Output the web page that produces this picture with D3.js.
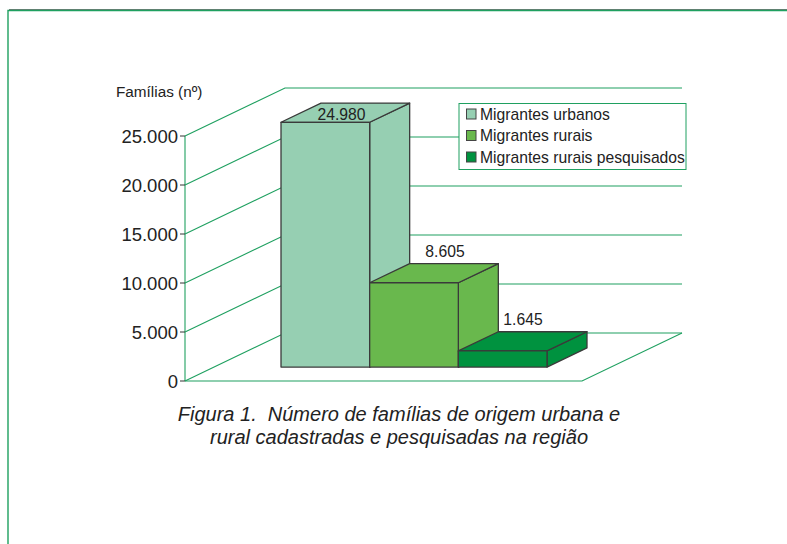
<!DOCTYPE html>
<html><head><meta charset="utf-8">
<script src="https://d3js.org/d3.v7.min.js"></script>
<style>html,body{margin:0;padding:0;background:#fff}svg{display:block}text{font-family:"Liberation Sans",Arial,sans-serif;fill:#222}</style>
</head><body><svg id="c" width="787" height="544"></svg>
<script>
const categories = ["Migrantes urbanos","Migrantes rurais","Migrantes rurais pesquisados"];
const values = [24980,8605,1645];
const valueLabels = ["24.980","8.605","1.645"];
const colors = ["#96cfb2","#69b84d","#00923f"];
const ticks = [0,5000,10000,15000,20000,25000];
const tickLabels = ["0","5.000","10.000","15.000","20.000","25.000"];
const captionLines = ["Figura 1.  Número de famílias de origem urbana e","rural cadastradas e pesquisadas na região"];

const svg = d3.select("#c");
const green = "#1fa060", edge = "#3a3a3a";
const y = d3.scaleLinear().domain([0,25000]).range([381,136]);
const x = d3.scaleBand().domain(categories).range([252,518]);
const depthX = d3.scaleLinear().domain([0,1]).range([0,100]);
const depthY = d3.scaleLinear().domain([0,1]).range([0,-48]);
const floorL = 185, floorR = 582;
const P = (px,v,d)=>[px+depthX(d), y(v)+depthY(d)];
const line = d3.line();
const poly = pts => line(pts)+"Z";

// page frame
svg.append("path").attr("d","M9 9.5H787").attr("stroke","#777").attr("fill","none");
svg.append("path").attr("d","M8 544V10.5H787").attr("stroke",green).attr("stroke-width",1.4).attr("fill","none");

// walls, floor and grid
const g = svg.append("g").attr("fill","none").attr("stroke",green).attr("stroke-width",1.1);
g.selectAll("path.grid").data(ticks).join("path").attr("class","grid")
  .attr("d",t=>line([P(floorL,t,0),P(floorL,t,1),P(floorR,t,1)]));
g.append("path").attr("d",line([P(floorL,0,0),P(floorL,25000,0)]));
g.append("path").attr("d",line([P(floorL,0,0),P(floorR,0,0),P(floorR,0,1)]));

// axis ticks and labels
svg.selectAll("path.tick").data(ticks).join("path").attr("class","tick")
  .attr("d",t=>line([[floorL-5,y(t)],[floorL,y(t)]])).attr("stroke","#333").attr("fill","none");
svg.selectAll("text.tl").data(ticks).join("text").attr("class","tl")
  .attr("x",178).attr("y",t=>y(t)+6.5).attr("text-anchor","end")
  .attr("font-size",18.5).text((t,i)=>tickLabels[i]);
svg.append("text").attr("x",116).attr("y",97).attr("font-size",15.3).text("Famílias (nº)");

// bars
const d0=0.29, d1=0.69;
categories.forEach((c,i)=>{
  const a=x(c), b=a+x.bandwidth(), v=values[i];
  const bar=svg.append("g").attr("fill",colors[i]).attr("stroke",edge).attr("stroke-width",1.3).attr("stroke-linejoin","round");
  bar.append("path").attr("d",poly([P(b,0,d0),P(b,0,d1),P(b,v,d1),P(b,v,d0)]));
  bar.append("path").attr("d",poly([P(a,v,d0),P(b,v,d0),P(b,v,d1),P(a,v,d1)]));
  bar.append("path").attr("d",poly([P(a,0,d0),P(b,0,d0),P(b,v,d0),P(a,v,d0)]));
});

// value labels
const labelPos = [[341.5,120],[445,256.5],[523,324.5]];
svg.selectAll("text.vl").data(valueLabels).join("text").attr("class","vl")
  .attr("x",(d,i)=>labelPos[i][0]).attr("y",(d,i)=>labelPos[i][1])
  .attr("text-anchor","middle").attr("font-size",15.7).text(d=>d);

// legend
const lg=svg.append("g");
lg.append("rect").attr("x",459).attr("y",103.5).attr("width",227).attr("height",66)
  .attr("fill","#fff").attr("stroke",green).attr("stroke-width",1);
const ly=d3.scalePoint().domain(categories).range([114,157]);
categories.forEach((c,i)=>{
  lg.append("rect").attr("x",466.5).attr("y",ly(c)-5).attr("width",9.5).attr("height",10)
    .attr("fill",colors[i]).attr("stroke","#444").attr("stroke-width",1);
  lg.append("text").attr("x",480).attr("y",ly(c)+5.5).attr("font-size",15.7).text(c);
});

// caption
svg.selectAll("text.cap").data(captionLines).join("text").attr("class","cap")
  .attr("x",399).attr("y",(d,i)=>421+i*23).attr("text-anchor","middle")
  .attr("font-size",20).attr("font-style","italic").attr("fill","#333").attr("xml:space","preserve").style("white-space","pre").text(d=>d);
</script></body></html>
